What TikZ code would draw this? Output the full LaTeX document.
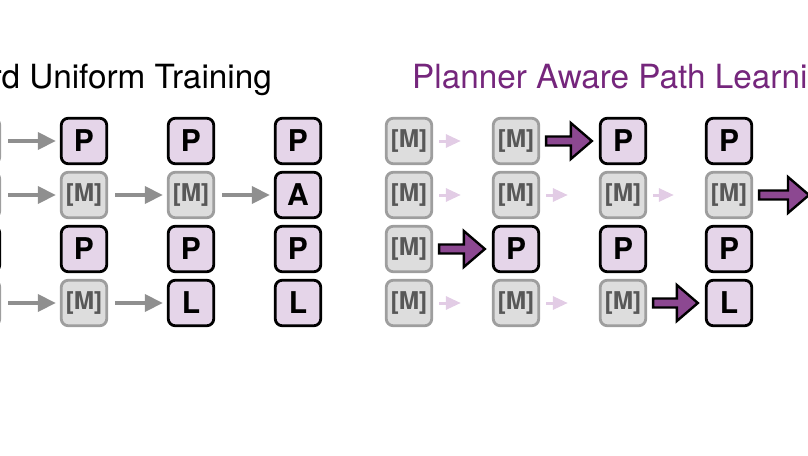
\documentclass[tikz,border=0pt]{standalone}
\usepackage{fontspec}
\setmainfont{TeX Gyre Heros}
\usetikzlibrary{arrows.meta,calc}
\definecolor{tokfill}{RGB}{229,213,233}
\definecolor{maskfill}{RGB}{221,221,221}
\definecolor{maskline}{RGB}{158,158,158}
\definecolor{masktext}{RGB}{88,88,88}
\definecolor{stepgray}{RGB}{143,143,143}
\definecolor{faintpurple}{RGB}{226,204,229}
\definecolor{planpurple}{RGB}{140,72,145}
\definecolor{titlepurple}{RGB}{117,38,124}
\tikzset{
tok/.style={draw=black,fill=tokfill,line width=2.8pt,rounded corners=7pt,minimum size=45.5pt,inner sep=0pt,font=\bfseries\fontsize{30}{30}\selectfont},
masktok/.style={tok,draw=maskline,fill=maskfill,text=masktext,font=\bfseries\fontsize{24.5}{24.5}\selectfont},
unistep/.style={draw=stepgray,line width=3.5pt,-{Triangle[length=18pt,width=17pt]},shorten <=7pt,shorten >=4pt},
faintstep/.style={draw=faintpurple,line width=3pt,-{Triangle[length=15pt,width=13pt]},shorten <=6pt,shorten >=31pt},
planstep/.style={draw=black,fill=planpurple,line width=2.4pt,line join=miter},
heading/.style={inner sep=0pt,font=\fontsize{33.3}{33.3}\selectfont}
}
\newcommand{\planarrow}[2]{%
\draw[planstep] let \p1=($(#1.east)+(6,0)$), \p2=($(#2.west)+(-7,0)$) in
(\x1,\y1+4.5pt) -- (\x2-21pt,\y1+4.5pt) -- (\x2-21pt,\y1+18pt) -- (\x2,\y1)
-- (\x2-21pt,\y1-18pt) -- (\x2-21pt,\y1-4.5pt) -- (\x1,\y1-4.5pt) -- cycle;}
\begin{document}
\begin{tikzpicture}[x=1pt,y=-1pt]
\useasboundingbox (0,0) rectangle (808,455);
\clip (0,0) rectangle (808,455);
\node[heading,anchor=base east] (unititle) at (272,88) {Standard Uniform Training};
\node[heading,anchor=base west,text=titlepurple] (plantitle) at (412,88) {Planner Aware Path Learning};
% uniform training
\node[masktok] (u0a) at (-23,141) {[M]};
\node[masktok] (u0b) at (-23,195) {[M]};
\node[tok] (u0c) at (-23,249) {P};
\node[masktok] (u0d) at (-23,303) {[M]};
\node[tok] (u1a) at (84,141) {P};
\node[masktok] (u1b) at (84,195) {[M]};
\node[tok] (u1c) at (84,249) {P};
\node[masktok] (u1d) at (84,303) {[M]};
\node[tok] (u2a) at (191,141) {P};
\node[masktok] (u2b) at (191,195) {[M]};
\node[tok] (u2c) at (191,249) {P};
\node[tok] (u2d) at (191,303) {L};
\node[tok] (u3a) at (298,141) {P};
\node[tok] (u3b) at (298,195) {A};
\node[tok] (u3c) at (298,249) {P};
\node[tok] (u3d) at (298,303) {L};
\draw[unistep] (u0a) -- (u1a);
\draw[unistep] (u0b) -- (u1b);
\draw[unistep] (u1b) -- (u2b);
\draw[unistep] (u2b) -- (u3b);
\draw[unistep] (u0d) -- (u1d);
\draw[unistep] (u1d) -- (u2d);
% planner aware
\node[masktok] (p0a) at (409,141) {[M]};
\node[masktok] (p0b) at (409,195) {[M]};
\node[masktok] (p0c) at (409,249) {[M]};
\node[masktok] (p0d) at (409,303) {[M]};
\node[masktok] (p1a) at (516,141) {[M]};
\node[masktok] (p1b) at (516,195) {[M]};
\node[tok] (p1c) at (516,249) {P};
\node[masktok] (p1d) at (516,303) {[M]};
\node[tok] (p2a) at (623,141) {P};
\node[masktok] (p2b) at (623,195) {[M]};
\node[tok] (p2c) at (623,249) {P};
\node[masktok] (p2d) at (623,303) {[M]};
\node[tok] (p3a) at (729,141) {P};
\node[masktok] (p3b) at (729,195) {[M]};
\node[tok] (p3c) at (729,249) {P};
\node[tok] (p3d) at (729,303) {L};
\coordinate (exit) at (816,195);
\draw[faintstep] (p0a) -- (p1a);
\draw[faintstep] (p0b) -- (p1b);
\draw[faintstep] (p1b) -- (p2b);
\draw[faintstep] (p2b) -- (p3b);
\draw[faintstep] (p0d) -- (p1d);
\draw[faintstep] (p1d) -- (p2d);
\planarrow{p1a}{p2a}
\planarrow{p0c}{p1c}
\planarrow{p2d}{p3d}
\planarrow{p3b}{exit}
\end{tikzpicture}
\end{document}
